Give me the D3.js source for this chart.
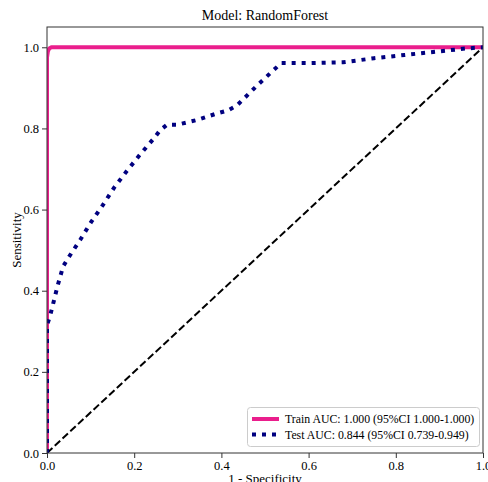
<!DOCTYPE html>
<html>
<head>
<meta charset="utf-8">
<script src="https://cdn.jsdelivr.net/npm/d3@7"></script>
<style>
  body { margin: 0; background: #fff; }
</style>
</head>
<body>
<svg id="chart" width="488" height="482"></svg>
<script>
// ---- data ----
const title = "Model: RandomForest";
const xLabel = "1 - Specificity";
const yLabel = "Sensitivity";
const xTicks = [0.0, 0.2, 0.4, 0.6, 0.8, 1.0];
const yTicks = [0.0, 0.2, 0.4, 0.6, 0.8, 1.0];

const trainLabel = "Train AUC: 1.000 (95%CI 1.000-1.000)";
const trainFpr = [0, 0, 0.002, 0.005, 0.01, 1];
const trainTpr = [0, 0.975, 0.99, 0.997, 1, 1];

const testLabel = "Test AUC: 0.844 (95%CI 0.739-0.949)";
const testFpr = [0, 0, 0.007, 0.013, 0.024, 0.037, 0.05, 0.076, 0.101, 0.128, 0.154, 0.183, 0.213, 0.244, 0.259, 0.275, 0.298, 0.345, 0.39, 0.414, 0.435, 0.486, 0.537, 0.60, 0.679, 0.75, 0.82, 0.90, 0.96, 1];
const testTpr = [0, 0.315, 0.338, 0.363, 0.411, 0.46, 0.483, 0.525, 0.569, 0.611, 0.654, 0.695, 0.735, 0.774, 0.795, 0.809, 0.809, 0.821, 0.837, 0.844, 0.856, 0.91, 0.961, 0.961, 0.963, 0.973, 0.981, 0.99, 0.997, 1];

const refX = [0, 1];
const refY = [0, 1];

// ---- layout ----
const FONT = '"Liberation Serif", "Times New Roman", serif';
const svg = d3.select("#chart");
const mLeft = 47, mRight = 483, mTop = 27, mBottom = 453;
const x = d3.scaleLinear().domain([0, 1]).range([mLeft, mRight]);
const y = d3.scaleLinear().domain([0, 1.05]).range([mBottom, mTop]);

svg.append("defs").append("clipPath").attr("id", "clip")
  .append("rect").attr("x", mLeft).attr("y", mTop).attr("width", mRight - mLeft).attr("height", mBottom - mTop);

const line = d3.line().x(d => x(d[0])).y(d => y(d[1]));
const plot = svg.append("g").attr("clip-path", "url(#clip)");

// reference diagonal
plot.append("path")
  .attr("d", line(d3.zip(refX, refY)))
  .attr("fill", "none").attr("stroke", "#000").attr("stroke-width", 2)
  .attr("stroke-dasharray", "7.4,3.2");

// train
plot.append("path")
  .attr("d", line(d3.zip(trainFpr, trainTpr)))
  .attr("fill", "none").attr("stroke", "#ea1e8c").attr("stroke-width", 4)
  .attr("stroke-linejoin", "round");

// test
plot.append("path")
  .attr("d", line(d3.zip(testFpr, testTpr)))
  .attr("fill", "none").attr("stroke", "#000080").attr("stroke-width", 4)
  .attr("stroke-dasharray", "4,6");

// axes
const xAxis = d3.axisBottom(x).tickValues(xTicks).tickFormat(d3.format(".1f")).tickSize(5).tickPadding(3);
const yAxis = d3.axisLeft(y).tickValues(yTicks).tickFormat(d3.format(".1f")).tickSize(5).tickPadding(3);

const gx = svg.append("g").attr("transform", `translate(0,${mBottom})`).call(xAxis);
const gy = svg.append("g").attr("transform", `translate(${mLeft},0)`).call(yAxis);
[gx, gy].forEach(g => {
  g.select(".domain").remove();
  g.selectAll(".tick line").attr("stroke", "#333").attr("stroke-width", 1);
  g.selectAll(".tick text").style("font-size", "12.5px").style("font-family", FONT).attr("fill", "#000");
});

// frame
svg.append("rect").attr("x", mLeft).attr("y", mTop).attr("width", mRight - mLeft).attr("height", mBottom - mTop)
  .attr("fill", "none").attr("stroke", "#333").attr("stroke-width", 1);

// title
svg.append("text").attr("x", (mLeft + mRight) / 2).attr("y", 20).attr("text-anchor", "middle")
  .style("font-family", FONT).style("font-size", "14px").text(title);

// axis labels
svg.append("text").attr("x", (mLeft + mRight) / 2).attr("y", 483).attr("text-anchor", "middle")
  .style("font-family", FONT).style("font-size", "13px").text(xLabel);
svg.append("text").attr("transform", `translate(21,${(mTop + mBottom) / 2}) rotate(-90)`)
  .attr("text-anchor", "middle").style("font-family", FONT).style("font-size", "13px").text(yLabel);

// legend
const lg = svg.append("g");
lg.append("rect").attr("x", 247.5).attr("y", 407.5).attr("width", 232).attr("height", 39).attr("rx", 3)
  .attr("fill", "#fff").attr("fill-opacity", 0.8).attr("stroke", "#ccc");
lg.append("line").attr("x1", 252).attr("x2", 279).attr("y1", 419).attr("y2", 419)
  .attr("stroke", "#ea1e8c").attr("stroke-width", 4);
lg.append("text").attr("x", 285).attr("y", 423).style("font-family", FONT).style("font-size", "11.8px").text(trainLabel);
lg.append("line").attr("x1", 252).attr("x2", 279).attr("y1", 434.5).attr("y2", 434.5)
  .attr("stroke", "#000080").attr("stroke-width", 4).attr("stroke-dasharray", "4,6");
lg.append("text").attr("x", 285).attr("y", 438.5).style("font-family", FONT).style("font-size", "11.8px").text(testLabel);
</script>
</body>
</html>
